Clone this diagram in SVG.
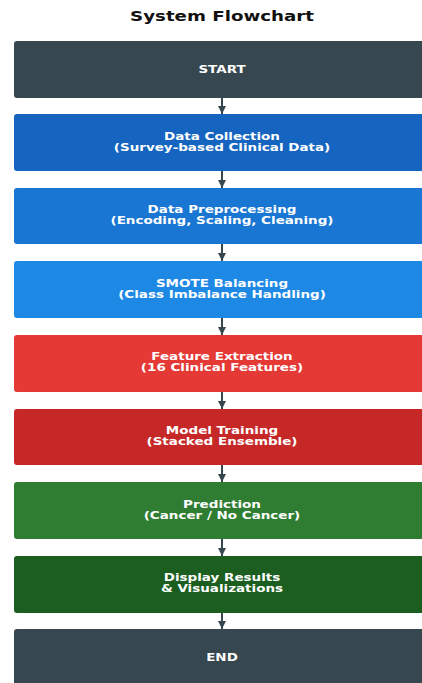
<svg xmlns="http://www.w3.org/2000/svg" width="422" height="683" viewBox="0 0 422 683">
<style>
.t{font-family:"DejaVu Sans",sans-serif;font-weight:bold;fill:#fff;font-size:10px;text-anchor:middle}
.ttl{font-family:"DejaVu Sans",sans-serif;font-weight:bold;fill:#111;font-size:13.5px;text-anchor:middle}
.c{stroke:#37474F;stroke-width:2;fill:none}
</style>
<defs>
<marker id="ah" viewBox="0 0 10 10" refX="10" refY="5" markerWidth="4" markerHeight="4" orient="auto" markerUnits="strokeWidth">
<path d="M0,0 L10,5 L0,10 z" fill="#37474F"/>
</marker>
</defs>
<rect width="422" height="683" fill="#fff"/>
<text class="ttl" transform="translate(222,21) scale(1.35,1)">System Flowchart</text>
<g id="connectors">
<line class="c" x1="222" y1="98" x2="222" y2="114" marker-end="url(#ah)"/>
<line class="c" x1="222" y1="171" x2="222" y2="188" marker-end="url(#ah)"/>
<line class="c" x1="222" y1="244" x2="222" y2="261" marker-end="url(#ah)"/>
<line class="c" x1="222" y1="318" x2="222" y2="335" marker-end="url(#ah)"/>
<line class="c" x1="222" y1="392" x2="222" y2="409" marker-end="url(#ah)"/>
<line class="c" x1="222" y1="465" x2="222" y2="482" marker-end="url(#ah)"/>
<line class="c" x1="222" y1="539" x2="222" y2="556" marker-end="url(#ah)"/>
<line class="c" x1="222" y1="613" x2="222" y2="629" marker-end="url(#ah)"/>
</g>
<g id="start"><rect x="14" y="41" width="416" height="57" rx="3" fill="#37474F"/><text class="t" transform="translate(222,73) scale(1.35,1)">START</text></g>
<g id="collect"><rect x="14" y="114" width="416" height="57" rx="3" fill="#1565C0"/><text class="t" transform="translate(222,140) scale(1.35,1)">Data Collection</text><text class="t" transform="translate(222,151) scale(1.35,1)">(Survey-based Clinical Data)</text></g>
<g id="prep"><rect x="14" y="188" width="416" height="56" rx="3" fill="#1976D2"/><text class="t" transform="translate(222,213) scale(1.35,1)">Data Preprocessing</text><text class="t" transform="translate(222,224) scale(1.35,1)">(Encoding, Scaling, Cleaning)</text></g>
<g id="smote"><rect x="14" y="261" width="416" height="57" rx="3" fill="#1E88E5"/><text class="t" transform="translate(222,287) scale(1.35,1)">SMOTE Balancing</text><text class="t" transform="translate(222,298) scale(1.35,1)">(Class Imbalance Handling)</text></g>
<g id="feat"><rect x="14" y="335" width="416" height="57" rx="3" fill="#E53935"/><text class="t" transform="translate(222,360) scale(1.35,1)">Feature Extraction</text><text class="t" transform="translate(222,371) scale(1.35,1)">(16 Clinical Features)</text></g>
<g id="train"><rect x="14" y="409" width="416" height="56" rx="3" fill="#C62828"/><text class="t" transform="translate(222,434) scale(1.35,1)">Model Training</text><text class="t" transform="translate(222,445) scale(1.35,1)">(Stacked Ensemble)</text></g>
<g id="pred"><rect x="14" y="482" width="416" height="57" rx="3" fill="#2E7D32"/><text class="t" transform="translate(222,508) scale(1.35,1)">Prediction</text><text class="t" transform="translate(222,519) scale(1.35,1)">(Cancer / No Cancer)</text></g>
<g id="display"><rect x="14" y="556" width="416" height="57" rx="3" fill="#1B5E20"/><text class="t" transform="translate(222,581) scale(1.35,1)">Display Results</text><text class="t" transform="translate(222,592) scale(1.35,1)">&amp; Visualizations</text></g>
<g id="end"><rect x="14" y="629" width="416" height="60" rx="3" fill="#37474F"/><text class="t" transform="translate(222,661) scale(1.35,1)">END</text></g>
</svg>
